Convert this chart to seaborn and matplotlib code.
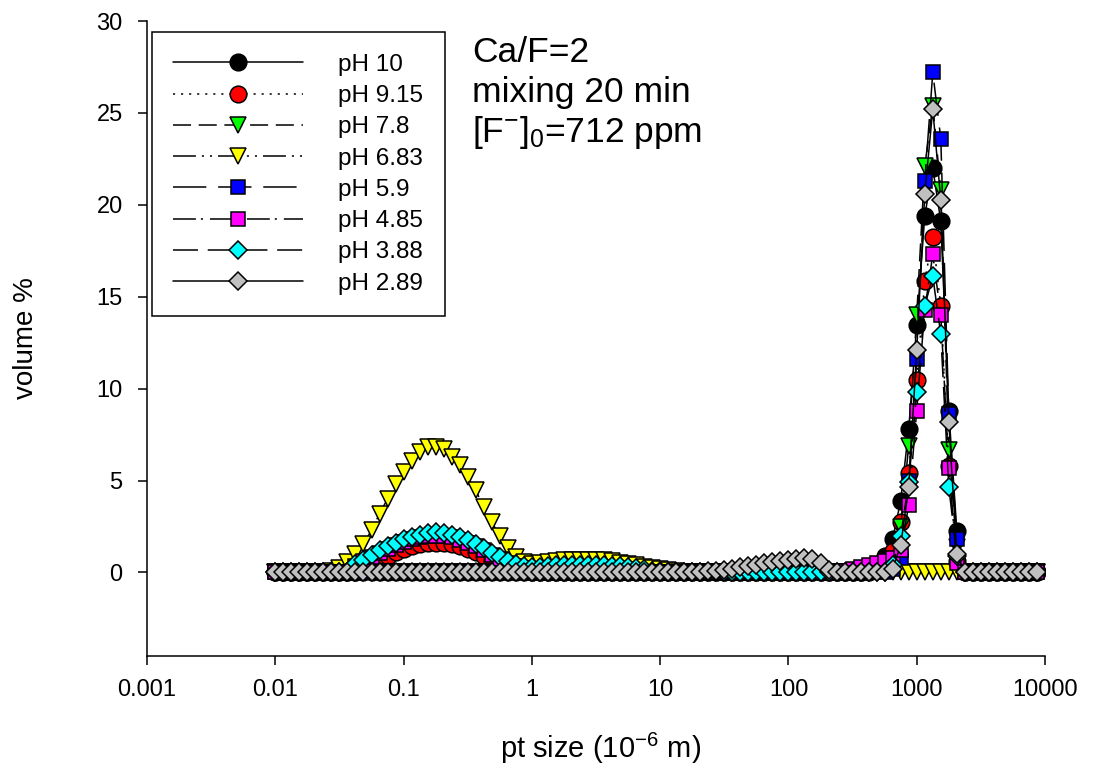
import matplotlib
matplotlib.use("Agg")
import matplotlib.pyplot as plt
import seaborn as sns
import pandas as pd
from matplotlib.ticker import FixedLocator, FixedFormatter, NullLocator

# particle size classes (10^-6 m), 16 classes per decade
size_um = [
    0.0100, 0.01155, 0.01334, 0.01540, 0.01778, 0.02054, 0.02371, 0.02738,
    0.03162, 0.03652, 0.04217, 0.04870, 0.05623, 0.06494, 0.07499, 0.08660,
    0.1000, 0.1155, 0.1334, 0.1540, 0.1778, 0.2054, 0.2371, 0.2738,
    0.3162, 0.3652, 0.4217, 0.4870, 0.5623, 0.6494, 0.7499, 0.8660,
    1.000, 1.155, 1.334, 1.540, 1.778, 2.054, 2.371, 2.738,
    3.162, 3.652, 4.217, 4.870, 5.623, 6.494, 7.499, 8.660,
    10.00, 11.55, 13.34, 15.40, 17.78, 20.54, 23.71, 27.38,
    31.62, 36.52, 42.17, 48.70, 56.23, 64.94, 74.99, 86.60,
    100.0, 115.5, 133.4, 154.0, 177.8, 205.4, 237.1, 273.8,
    316.2, 365.2, 421.7, 487.0, 562.3, 649.4, 749.9, 866.0,
    1000, 1155, 1334, 1540, 1778, 2054, 2371, 2738,
    3162, 3652, 4217, 4870, 5623, 6494, 7499, 8660,
]

# volume % per size class
ph_10 = [0] * 74 + [0.1, 0.3, 0.92, 1.83, 3.9, 7.8, 13.45, 19.4, 22.0, 19.1, 8.8, 2.25] + [0] * 10
ph_9_15 = ([0] * 11
           + [0.3, 0.5, 0.7, 0.9, 1.1, 1.27, 1.42, 1.52, 1.58, 1.6, 1.58, 1.52, 1.42, 1.28,
              1.1, 0.9, 0.7, 0.5, 0.35, 0.22, 0.12]
           + [0] * 43
           + [0.15, 0.45, 1.15, 2.75, 5.4, 10.45, 15.86, 18.25, 14.5, 5.8, 0.6]
           + [0] * 10)
ph_7_8 = [0] * 77 + [0.5, 2.45, 6.9, 14.0, 22.1, 25.4, 20.8, 6.65, 1.4] + [0] * 10
ph_6_83 = ([0] * 7
           + [0.1, 0.25, 0.56, 1.0, 1.56, 2.29, 3.2, 4.0, 4.83, 5.46, 6.06, 6.55, 6.82, 6.85,
              6.73, 6.28, 5.82, 5.19, 4.46, 3.55, 2.74, 1.96, 1.34, 0.83, 0.56, 0.45, 0.5, 0.55,
              0.6, 0.65, 0.68, 0.7, 0.7, 0.68, 0.65, 0.6, 0.52, 0.45, 0.38, 0.3, 0.25, 0.2,
              0.15, 0.1]
           + [0] * 45)
ph_5_9 = [0] * 77 + [0.2, 0.8, 5.0, 11.6, 21.3, 27.2, 23.6, 8.6, 1.83] + [0] * 10
ph_4_85 = ([0] * 10
           + [0.35, 0.6, 0.82, 1.06, 1.28, 1.48, 1.66, 1.8, 1.9, 1.97, 2.0, 1.97, 1.9, 1.78,
              1.62, 1.42, 1.2, 0.96, 0.74, 0.52, 0.36, 0.25]
           + [0] * 39
           + [0.1, 0.2, 0.3, 0.4, 0.5, 0.6, 0.8, 1.2, 3.65, 8.8, 14.3, 17.3, 14.0, 5.7, 0.5]
           + [0] * 10)
ph_3_88 = ([0] * 10
           + [0.45, 0.7, 0.95, 1.2, 1.42, 1.62, 1.8, 1.95, 2.05, 2.17, 2.2, 2.17, 2.05, 1.92,
              1.75, 1.55, 1.32, 1.08, 0.85, 0.62, 0.45, 0.35, 0.3, 0.32, 0.35, 0.38, 0.4, 0.42,
              0.43, 0.43, 0.42, 0.4, 0.37, 0.33, 0.28, 0.22, 0.16, 0.1, 0.05]
           + [0] * 28
           + [0.4, 2.0, 4.9, 9.8, 14.5, 16.1, 12.95, 4.65, 0.9]
           + [0] * 10)
ph_2_89 = ([0] * 54
           + [0.05, 0.1, 0.15, 0.2, 0.28, 0.35, 0.42, 0.5, 0.57, 0.63, 0.7, 0.75, 0.77, 0.72,
              0.5, 0.15]
           + [0] * 7
           + [0.2, 1.47, 4.65, 12.1, 20.6, 25.2, 20.25, 8.2, 1.0]
           + [0] * 10)

series_labels = ["pH 10", "pH 9.15", "pH 7.8", "pH 6.83", "pH 5.9", "pH 4.85", "pH 3.88", "pH 2.89"]
series_values = [ph_10, ph_9_15, ph_7_8, ph_6_83, ph_5_9, ph_4_85, ph_3_88, ph_2_89]

xtick_values = [0.001, 0.01, 0.1, 1, 10, 100, 1000, 10000]
xtick_labels = ["0.001", "0.01", "0.1", "1", "10", "100", "1000", "10000"]
ytick_values = [0, 5, 10, 15, 20, 25, 30]

# styles
face_colors = ["#000000", "#ff0000", "#00ff00", "#ffff00", "#0000ff", "#ff00ff", "#00ffff", "#c0c0c0"]
marker_kinds = ["o", "o", "v", "v", "s", "s", "D", "D"]
marker_sizes = [12, 12, 12, 12, 10, 10, 9.5, 9.5]
line_styles = [
    "-",
    (0, (1.5, 4.3)),
    (0, (13, 5.5)),
    (0, (16.5, 4.3, 1.5, 4.3, 1.5, 4.3)),
    (0, (24, 8.5)),
    (0, (16.5, 3.6, 1.5, 5)),
    (0, (18, 7)),
    "-",
]

sns.set_style("ticks")
plt.rcParams["font.family"] = ["Liberation Sans", "DejaVu Sans"]
plt.rcParams["mathtext.fontset"] = "custom"
plt.rcParams["mathtext.rm"] = "Liberation Sans"
plt.rcParams["mathtext.it"] = "Liberation Sans:italic"
plt.rcParams["lines.scale_dashes"] = False
plt.rcParams["text.color"] = "black"
plt.rcParams["axes.labelcolor"] = "black"

fig = plt.figure(figsize=(10.93, 7.7), dpi=100)
ax = fig.add_axes([0.1345, 0.148, 0.8216, 0.8247])

for label, values, fc, mk, ms, ls in zip(series_labels, series_values, face_colors,
                                         marker_kinds, marker_sizes, line_styles):
    df = pd.DataFrame({"size": size_um, "vol": values})
    sns.lineplot(data=df, x="size", y="vol", ax=ax, color="black", linewidth=1.1,
                 linestyle=ls, marker=mk, markersize=ms, markerfacecolor=fc,
                 markeredgecolor="black", markeredgewidth=1.1, errorbar=None,
                 label=label, legend=False)

ax.set_xscale("log")
ax.set_xlim(0.001, 10000)
ax.set_ylim(-4.55, 30)
ax.xaxis.set_major_locator(FixedLocator(xtick_values))
ax.xaxis.set_major_formatter(FixedFormatter(xtick_labels))
ax.xaxis.set_minor_locator(NullLocator())
ax.yaxis.set_major_locator(FixedLocator(ytick_values))
ax.tick_params(axis="both", direction="out", length=6.5, width=1.1, labelsize=17,
               colors="black")
ax.tick_params(axis="x", pad=10)
ax.tick_params(axis="y", pad=11)
sns.despine(ax=ax)
for side in ["left", "bottom"]:
    ax.spines[side].set_linewidth(1.1)
    ax.spines[side].set_color("black")

ax.set_xlabel("pt size (10$^{-6}$ m)", fontsize=21)
ax.set_ylabel("volume %", fontsize=20)
ax.xaxis.set_label_coords(0.505, -0.118)
ax.yaxis.set_label_coords(-0.12, 0.5)

ax.text(0.362, 0.951, "Ca/F=2", transform=ax.transAxes, fontsize=25.5, va="center")
ax.text(0.362, 0.887, "mixing 20 min", transform=ax.transAxes, fontsize=25.5, va="center")
ax.text(0.362, 0.824, "[F$^{-}$]$_{0}$=712 ppm", transform=ax.transAxes, fontsize=25.5,
        va="center")

leg = ax.legend(loc="upper left", bbox_to_anchor=(0.0052, 0.982), borderaxespad=0,
                numpoints=1, fontsize=17.5, handlelength=5.35, handletextpad=1.45,
                labelspacing=0.38, borderpad=0.88, fancybox=False, framealpha=1,
                edgecolor="black")
leg.get_frame().set_linewidth(1.1)

fig.savefig("out.png", dpi=100)
plt.close(fig)
